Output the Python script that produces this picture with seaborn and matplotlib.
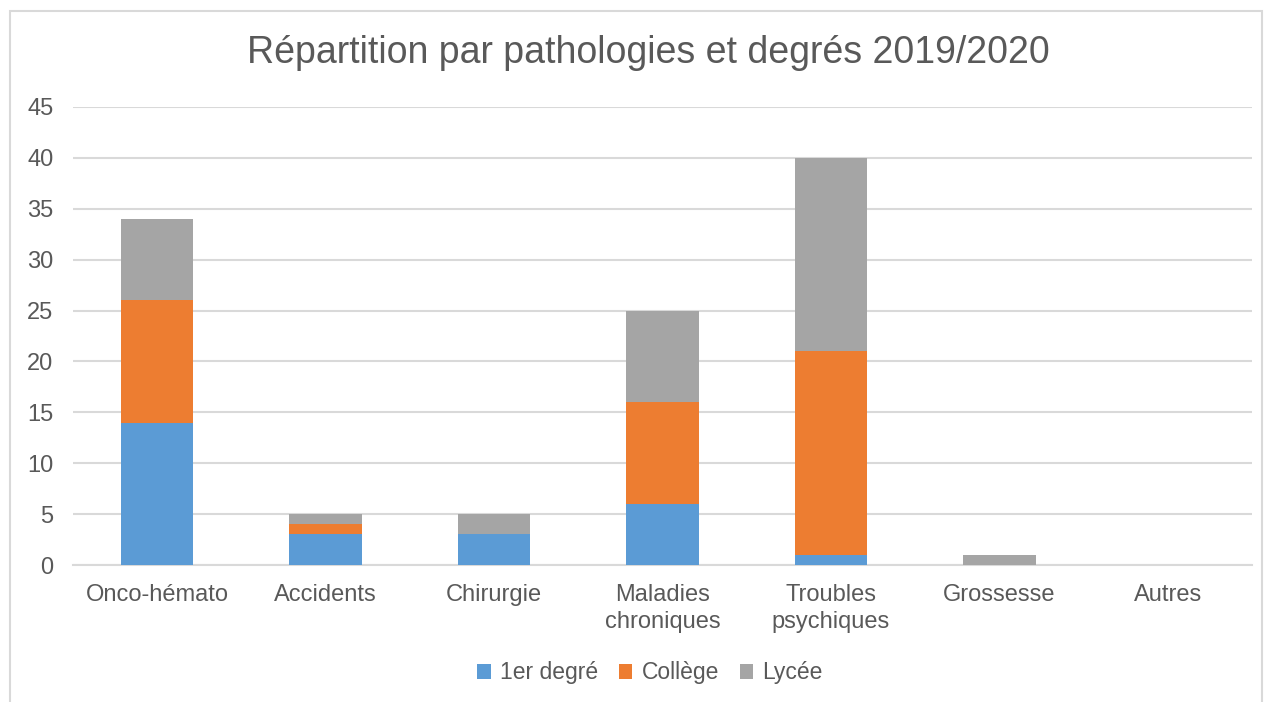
import matplotlib
matplotlib.use("Agg")
import matplotlib.pyplot as plt
import seaborn as sns
import numpy as np
import pandas as pd
from matplotlib.patches import Rectangle

categories = ["Onco-hémato", "Accidents", "Chirurgie", "Maladies\nchroniques",
              "Troubles\npsychiques", "Grossesse", "Autres"]
premier_degre = [14, 3, 3, 6, 1, 0, 0]
college = [12, 1, 0, 10, 20, 0, 0]
lycee = [8, 1, 2, 9, 19, 1, 0]
series_names = ["1er degré", "Collège", "Lycée"]
colors = ["#5b9bd5", "#ed7d31", "#a5a5a5"]
yticks = [0, 5, 10, 15, 20, 25, 30, 35, 40, 45]

sns.set_theme(style="white")
plt.rcParams['font.family'] = ['Liberation Sans', 'DejaVu Sans']

fig = plt.figure(figsize=(12.7, 7.02), dpi=100)
ax = fig.add_axes([73/1270, 1-565/702, (1252-73)/1270, (565-107)/702])

series = [premier_degre, college, lycee]
bottom = np.zeros(len(categories))
for name, vals, col in zip(series_names, series, colors):
    df = pd.DataFrame({"cat": categories, "val": vals})
    sns.barplot(data=df, x="cat", y="val", color=col, width=0.43,
                bottom=bottom, ax=ax, label=name, saturation=1,
                edgecolor="none", linewidth=0, zorder=3)
    bottom = bottom + np.array(vals)

if ax.get_legend() is not None:
    ax.get_legend().remove()

ax.set_ylim(0, 45)
ax.set_xlim(-0.5, 6.5)
ax.set_yticks(yticks)
ax.yaxis.grid(True, color="#d9d9d9", linewidth=1.5, zorder=0)
ax.set_axisbelow(True)
for s in ["top", "right", "left"]:
    ax.spines[s].set_visible(False)
ax.spines["bottom"].set_color("#d9d9d9")
ax.spines["bottom"].set_linewidth(1.5)
ax.set_xlabel("")
ax.set_ylabel("")
ax.tick_params(axis="both", length=0, labelsize=17, labelcolor="#595959")
ax.tick_params(axis="y", pad=14)
ax.tick_params(axis="x", pad=14)
for lbl in ax.get_xticklabels():
    lbl.set_linespacing(1.25)

fig.text(648/1270, 1-53/702, "Répartition par pathologies et degrés 2019/2020",
         ha="center", va="center", fontsize=27, color="#595959")

handles, labels = ax.get_legend_handles_labels()
leg = fig.legend(handles[:3], labels[:3], loc="center", bbox_to_anchor=(650/1270, 1-673/702),
                 ncol=3, frameon=False, fontsize=16.5, handlelength=0.6, handleheight=0.6,
                 handletextpad=0.4, columnspacing=0.9)
for t in leg.get_texts():
    t.set_color("#595959")

fig.patches.append(Rectangle((10/1270, -0.1), (1262-10)/1270, 1+0.1-11/702,
                             transform=fig.transFigure, fill=False,
                             edgecolor="#d9d9d9", linewidth=1.5))

fig.savefig("out.png", dpi=100, facecolor="white")
